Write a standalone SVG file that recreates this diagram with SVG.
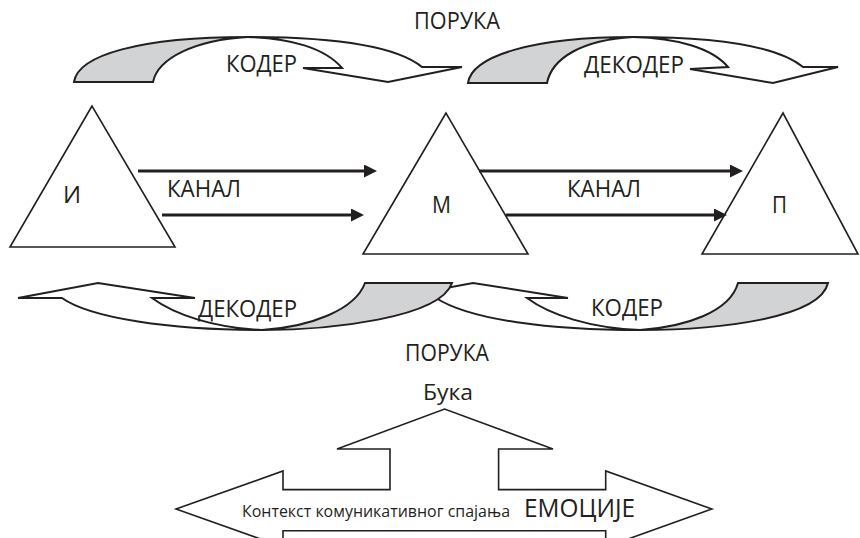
<svg xmlns="http://www.w3.org/2000/svg" width="860" height="538" viewBox="0 0 860 538">
<style>
.bg{fill:#ffffff}
.band{fill:#ffffff;stroke:#231f20;stroke-width:2;stroke-linejoin:miter}
.back{fill:#d1d3d4;stroke:#231f20;stroke-width:2;stroke-linejoin:miter}
.tri{fill:#ffffff;stroke:#231f20;stroke-width:1.6}
.ch{stroke:#231f20;stroke-width:3;fill:none}
.t{font-family:"Open Sans","Noto Sans","DejaVu Sans",sans-serif;font-size:24px;fill:#231f20}
.s{font-family:"Open Sans","Noto Sans","DejaVu Sans",sans-serif;font-size:17px;fill:#231f20}
.m{font-family:"Open Sans","Noto Sans","DejaVu Sans",sans-serif;font-size:22px;fill:#231f20}
.e{font-family:"Open Sans","Noto Sans","DejaVu Sans",sans-serif;font-size:25px;fill:#231f20}
</style>
<defs>
<marker id="ah" markerUnits="userSpaceOnUse" markerWidth="14" markerHeight="13" refX="2" refY="6.5" orient="auto">
<path d="M0,0 L13,6.5 L0,13 Z" fill="#231f20"/>
</marker>
</defs>
<rect class="bg" x="0" y="0" width="860" height="538"/>

<g id="top-coder">
<path class="band" d="M248,37 C330,37 395,45 422,67 L462,67 L388,82 L303,68 L342,68 C325,48 290,38 248,37 Z"/>
<path class="back" d="M74,82 C78,55 140,37 248,37 C195,40 158,58 153,82 Z"/>
<text class="t" x="226" y="72" textLength="71" lengthAdjust="spacingAndGlyphs">КОДЕР</text>
</g>

<g id="top-decoder">
<path class="band" d="M633,37 C712,37 776,45 803,67 L838,67 L773,83 L690,69 L728,67 C712,48 677,38 633,37 Z"/>
<path class="back" d="M468,83 C472,56 532,37 633,37 C582,40 552,58 547,83 Z"/>
<text class="t" x="584" y="73" textLength="100" lengthAdjust="spacingAndGlyphs">ДЕКОДЕР</text>
</g>

<text id="msg-top" class="t" x="414" y="29" textLength="86" lengthAdjust="spacingAndGlyphs">ПОРУКА</text>

<g id="node-I">
<polygon class="tri" points="92,106 10,247 175,247"/>
<text class="t" x="63" y="203" textLength="18" lengthAdjust="spacingAndGlyphs">И</text>
</g>
<g id="node-M">
<polygon class="tri" points="446,113 363,254 528,254"/>
<text class="t" x="432" y="213" textLength="19" lengthAdjust="spacingAndGlyphs">М</text>
</g>
<g id="node-P">
<polygon class="tri" points="783,113 702,254 858,254"/>
<text class="t" x="772" y="213" textLength="15" lengthAdjust="spacingAndGlyphs">П</text>
</g>

<g id="connectors">
<line class="ch" x1="138" y1="171" x2="366" y2="171" marker-end="url(#ah)"/>
<line class="ch" x1="162" y1="215" x2="353" y2="215" marker-end="url(#ah)"/>
<line class="ch" x1="479" y1="171" x2="732" y2="171" marker-end="url(#ah)"/>
<line class="ch" x1="506" y1="215" x2="716" y2="215" marker-end="url(#ah)"/>
</g>
<text class="t" x="167" y="197" textLength="74" lengthAdjust="spacingAndGlyphs">КАНАЛ</text>
<text class="t" x="567" y="197" textLength="74" lengthAdjust="spacingAndGlyphs">КАНАЛ</text>

<g id="bottom-coder">
<path class="band" d="M392,298 L473,283 L568,298 L527,298 C550,315 590,328 640,330 C550,330 470,320 436,298 Z"/>
<path class="back" d="M738,283 L828,283 C820,318 720,330 640,330 C685,327 730,312 738,283 Z"/>
<text class="t" x="591" y="316" textLength="72" lengthAdjust="spacingAndGlyphs">КОДЕР</text>
</g>

<g id="bottom-decoder">
<path class="band" d="M18,298 L98,283 L195,298 L152,298 C175,315 215,328 262,330 C170,330 90,318 62,298 Z"/>
<path class="back" d="M365,283 L452,283 C440,318 330,330 262,330 C310,327 355,310 365,283 Z"/>
<text class="t" x="198" y="317" textLength="99" lengthAdjust="spacingAndGlyphs">ДЕКОДЕР</text>
</g>

<text id="msg-bottom" class="t" x="405" y="361" textLength="84" lengthAdjust="spacingAndGlyphs">ПОРУКА</text>

<g id="context">
<polygon class="tri" points="176,509 283,471 283,489.6 390,489.6 390,449 337,449 444.6,409 553,449 498.6,449 498.6,489.6 605.7,489.6 605.7,471 711.8,509 605.7,547 605.7,530.7 283,530.7 283,547"/>
<text class="m" x="423" y="400" textLength="50" lengthAdjust="spacingAndGlyphs">Бука</text>
<text class="s" x="242" y="517" textLength="268" lengthAdjust="spacingAndGlyphs">Контекст комуникативног спајања</text>
<text class="e" x="524" y="517" textLength="111" lengthAdjust="spacingAndGlyphs">ЕМОЦИЈЕ</text>
</g>
</svg>
